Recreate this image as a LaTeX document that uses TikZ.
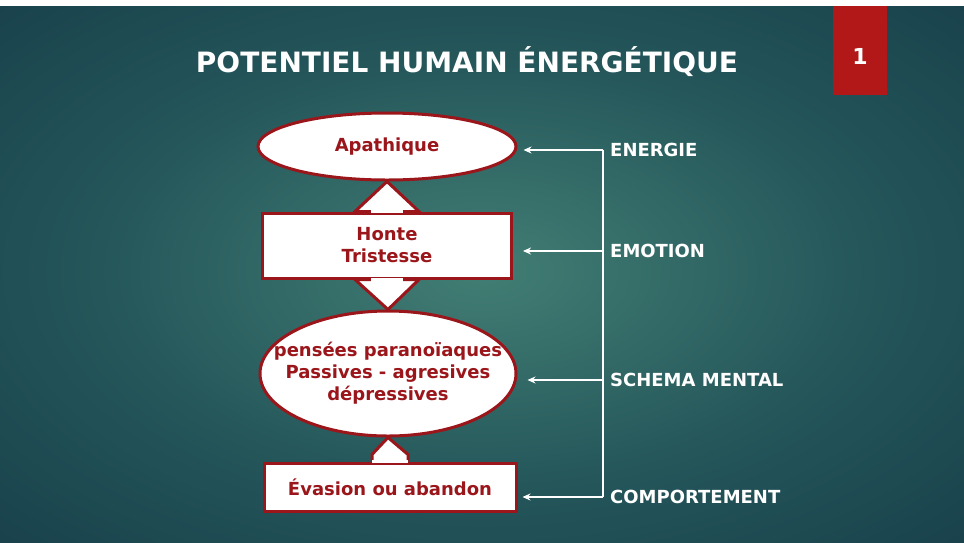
\documentclass[tikz,border=0pt]{standalone}
\usepackage{fontspec}
\setmainfont{DejaVu Sans}
\usetikzlibrary{positioning,shapes.geometric,arrows.meta,calc}
\definecolor{bgin}{RGB}{66,126,116}
\definecolor{bgmid}{RGB}{36,86,90}
\definecolor{bgout}{RGB}{19,54,68}
\definecolor{wine}{RGB}{155,22,27}
\definecolor{tagred}{RGB}{178,24,24}
\pgfdeclareradialshading{slide}{\pgfpointorigin}{color(0bp)=(bgin); color(20bp)=(bgmid); color(44bp)=(bgout)}
\tikzset{
  stage/.style={draw=wine, line width=3pt, fill=white, text=wine, font=\bfseries\fontsize{18}{22}\selectfont, align=center, inner sep=0pt},
  oval/.style={stage, ellipse, inner xsep=-30pt},
  block/.style={stage, rectangle},
  level/.style={text=white, font=\bfseries\fontsize{18}{22}\selectfont, anchor=west, inner xsep=7pt, inner ysep=0pt},
  feed/.style={white, line width=1.8pt, -{Stealth[length=8pt,width=7pt]}, shorten >=6pt},
  bigarrow/.style={draw=wine, line width=3pt, fill=white, line join=miter}
}

\begin{document}
\begin{tikzpicture}[x=1pt,y=-1pt]
\shade[shading=slide] (0,0) rectangle (964,542);
\fill[white] (0,0) rectangle (964,6);
\useasboundingbox (0,0) rectangle (964,542);
\node[text=white, font=\bfseries\fontsize{28}{34}\selectfont, anchor=base] (title) at (467,72) {POTENTIEL HUMAIN ÉNERGÉTIQUE};
\node[fill=tagred, minimum width=54pt, minimum height=89pt, inner sep=0pt, text height=27pt, text depth=0pt, text=white, font=\bfseries\fontsize{22}{26}\selectfont] (num) at (860,50.5) {1};

\node[oval, minimum width=258pt, minimum height=67pt] (apa) at (387,146.5) {Apathique};
\node[block, minimum width=249pt, minimum height=65pt, below=30pt of apa] (hon) {Honte\\Tristesse};
\node[oval, minimum width=256pt, minimum height=125pt, below=30pt of hon, xshift=1pt] (pen) {pensées paranoïaques\\Passives - agresives\\dépressives};
\node[block, minimum width=252pt, minimum height=48pt, below=24pt of pen, xshift=2pt] (eva) {Évasion ou abandon};

\filldraw[bigarrow] ($(hon.north)+(-16,0)$) -- ($(hon.north)+(-32,0)$) -- (apa.south) -- ($(hon.north)+(32,0)$) -- ($(hon.north)+(16,0)$);
\filldraw[bigarrow] ($(hon.south)+(-16,0)$) -- ($(hon.south)+(-32,0)$) -- (pen.north) -- ($(hon.south)+(32,0)$) -- ($(hon.south)+(16,0)$);
\filldraw[bigarrow] ($(eva.north)+(-18,0)$) -- ($(eva.north)+(-18,-7)$) -- (pen.south) -- ($(eva.north)+(18,-7)$) -- ($(eva.north)+(18,0)$);
\fill[white] ($(hon.north)+(-16,-1.8)$) rectangle ($(hon.north)+(16,1.8)$);
\fill[white] ($(hon.south)+(-16,-1.8)$) rectangle ($(hon.south)+(16,1.8)$);
\fill[white] ($(eva.north)+(-18,-1.8)$) rectangle ($(eva.north)+(18,1.8)$);

\node[level] (lene) at (603,150) {ENERGIE};
\node[level] (lemo) at (603,251) {EMOTION};
\node[level] (lsch) at (603,380) {SCHEMA MENTAL};
\node[level] (lcom) at (603,497) {COMPORTEMENT};
\draw[white, line width=1.8pt] (lene.west) -- (lcom.west);
\draw[feed] (lene.west) -- (lene.west -| apa.east);
\draw[feed, shorten >=10pt] (lemo.west) -- (lemo.west -| hon.east);
\draw[feed, shorten >=10pt] (lsch.west) -- (lsch.west -| pen.east);
\draw[feed, shorten >=5pt] (lcom.west) -- (lcom.west -| eva.east);
\end{tikzpicture}
\end{document}
